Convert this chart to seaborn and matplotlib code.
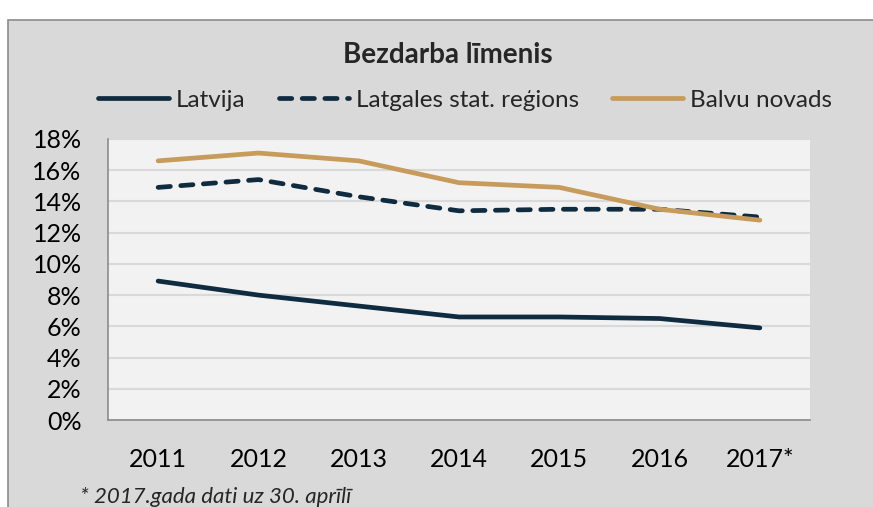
import seaborn as sns
import matplotlib.pyplot as plt
import matplotlib.patches as mpatches
import pandas as pd

years = ["2011", "2012", "2013", "2014", "2015", "2016", "2017*"]
latvija = [8.9, 8.0, 7.3, 6.6, 6.6, 6.5, 5.9]
latgale = [14.9, 15.4, 14.3, 13.4, 13.5, 13.5, 13.0]
balvi = [16.6, 17.1, 16.6, 15.2, 14.9, 13.5, 12.8]
series_names = ["Latvija", "Latgales stat. reģions", "Balvu novads"]

rows = []
for name, vals in zip(series_names, [latvija, latgale, balvi]):
    for i, v in enumerate(vals):
        rows.append({"pos": i, "value": v, "series": name})
df = pd.DataFrame(rows)

sns.set_style("white")
plt.rcParams['font.family'] = ['Lato', 'DejaVu Sans']

navy = "#0f2b3f"
gold = "#c79b5b"
dash = (2.6, 2.2)

fig = plt.figure(figsize=(8.73, 5.07), dpi=100)
fig.patch.set_facecolor("white")
# grey chart-area background with border
bg = mpatches.Rectangle((8 / 873, -0.1), 1.0, 1.1 - 20 / 507, transform=fig.transFigure,
                        facecolor="#d9d9d9", edgecolor="#8c8c8c", linewidth=1.2, zorder=-10)
fig.patches.append(bg)

ax = fig.add_axes([108 / 873, 1 - 420 / 507, 702 / 873, 281 / 507])
ax.set_facecolor("#f2f2f2")

sns.lineplot(data=df, x="pos", y="value", hue="series", style="series",
             palette={series_names[0]: navy, series_names[1]: navy, series_names[2]: gold},
             dashes={series_names[0]: "", series_names[1]: dash, series_names[2]: ""},
             linewidth=3.4, ax=ax, legend=False, zorder=3)
for ln in ax.lines:
    ln.set_solid_capstyle("round")
    ln.set_dash_capstyle("round")

ax.set_xlim(-0.5, 6.5)
ax.set_ylim(0, 18)
ax.set_yticks(range(0, 19, 2))
ax.set_yticklabels([f"{v}%" for v in range(0, 19, 2)])
ax.yaxis.grid(True, color="#d9d9d9", linewidth=1.5)
ax.xaxis.grid(False)

ax.set_xticks([i - 0.5 for i in range(8)])
ax.set_xticklabels([])
ax.set_xticks(range(7), minor=True)
ax.set_xticklabels(years, minor=True)
ax.tick_params(axis="x", which="major", direction="out", length=7, width=1.2, color="#8c8c8c")
ax.tick_params(axis="x", which="minor", length=0, pad=20, labelsize=18, colors="black")
ax.tick_params(axis="y", direction="out", length=7, width=1.2, color="#8c8c8c",
               pad=12, labelsize=18, labelcolor="black")

for side in ["top", "right"]:
    ax.spines[side].set_visible(False)
for side in ["left", "bottom"]:
    ax.spines[side].set_color("#8c8c8c")
    ax.spines[side].set_linewidth(1.2)
ax.set_xlabel("")
ax.set_ylabel("")

fig.text(0.513, 1 - 55 / 507, "Bezdarba līmenis", ha="center", va="center",
         fontsize=20, fontweight="bold")

handles = [
    plt.Line2D([], [], color=navy, linewidth=3.4, solid_capstyle="round"),
    plt.Line2D([], [], color=navy, linewidth=3.4, linestyle=(0, dash), dash_capstyle="round"),
    plt.Line2D([], [], color=gold, linewidth=3.4, solid_capstyle="round"),
]
fig.legend(handles, series_names, loc="center", bbox_to_anchor=(0.533, 1 - 100 / 507),
           ncol=3, frameon=False, fontsize=17.5, handlelength=2.9, handletextpad=0.3,
           columnspacing=1.35)

fig.text(80 / 873, 1 - 497 / 507, "* 2017.gada dati uz 30. aprīlī", ha="left", va="center",
         fontsize=16, style="italic")

fig.savefig("out.png", dpi=100)
